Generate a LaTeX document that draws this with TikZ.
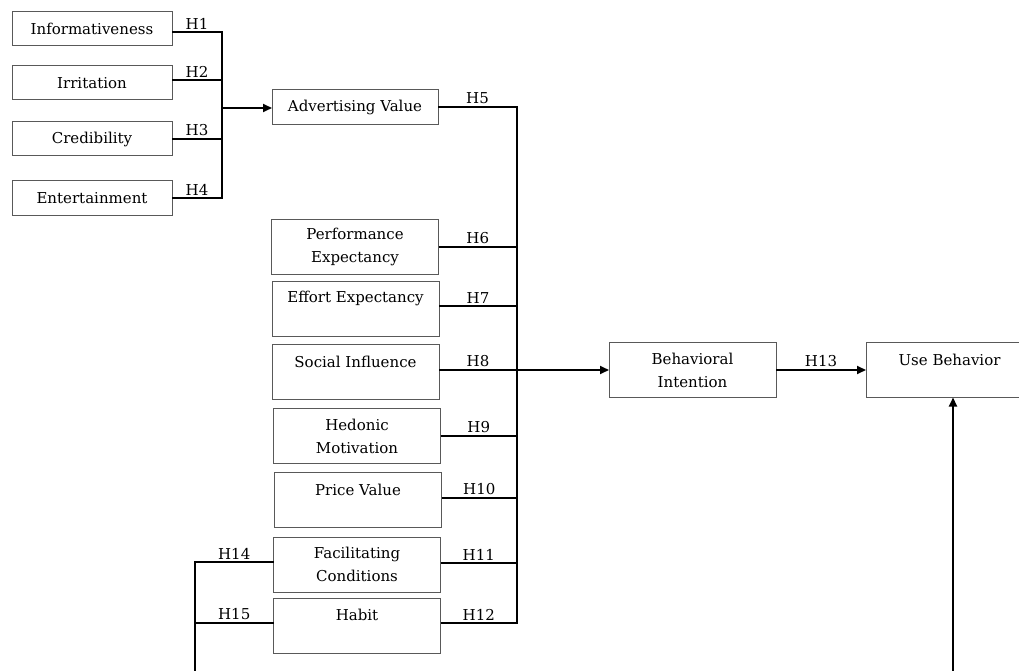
\documentclass[tikz,border=0pt]{standalone}
\usepackage{fontspec}
\setmainfont{DejaVu Serif}
\usetikzlibrary{arrows.meta}
\begin{document}
\begin{tikzpicture}[x=1pt,y=-1pt,
  font=\fontsize{15}{23}\selectfont,
  box/.style={draw=black!65, line width=1pt, rectangle, inner sep=0pt, outer sep=0pt,
    minimum width=167pt, minimum height=55pt, align=center},
  sbox/.style={box, minimum width=160pt, minimum height=34pt},
  conn/.style={line width=1.8pt, black},
  arr/.style={conn, -{Triangle[length=9pt,width=8pt]}},
  hl/.style={above, inner sep=2pt},
  toplbl/.style={label={[anchor=center,yshift=-17pt]north:#1}}
]
\useasboundingbox (0,0) rectangle (1019,671);
\clip (0,0) rectangle (1019,671);

% left group
\node[sbox] (inf) at (92,29) {Informativeness};
\node[sbox] (irr) at (92,83) {Irritation};
\node[sbox] (cre) at (92,139) {Credibility};
\node[sbox] (ent) at (92,198) {Entertainment};
\node[box, minimum width=166pt, minimum height=35pt] (adv) at (355,107) {Advertising Value};

% middle column
\node[box] (pe) at (355,247) {Performance\\Expectancy};
\node[box, toplbl=Effort Expectancy] (ee) at (355.5,308.5) {};
\node[box, toplbl=Social Influence] (si) at (355.5,372) {};
\node[box] (hm) at (357,436) {Hedonic\\Motivation};
\node[box, toplbl=Price Value] (pv) at (358,500) {};
\node[box] (fc) at (357,564.5) {Facilitating\\Conditions};
\node[box, toplbl=Habit] (hab) at (357,625.5) {};

% right
\node[box] (bi) at (692.5,370) {Behavioral\\Intention};
\node[box, toplbl=Use Behavior] (ub) at (949.5,370) {};

% bus coordinates
\coordinate (b1) at (222,0);
\coordinate (b2) at (517,0);
\coordinate (b3) at (195,0);
\coordinate (bot1) at (195,671);
\coordinate (bot2) at (953,671);

\coordinate (infR) at ([yshift=-3pt]inf.east);
\coordinate (irrR) at ([yshift=3pt]irr.east);
\coordinate (eeR) at ([yshift=2.5pt]ee.east);
\coordinate (pvR) at ([yshift=2pt]pv.east);
\coordinate (fcR) at ([yshift=1.5pt]fc.east);
\coordinate (fcL) at ([yshift=2.5pt]fc.west);
\coordinate (habR) at ([yshift=2.5pt]hab.east);
\coordinate (habL) at ([yshift=2.5pt]hab.west);
\coordinate (advL) at ([yshift=-1pt]adv.west);

% H1-H4
\draw[conn] (infR) -- node[hl] {H1} (infR -| b1);
\draw[conn] (irrR) -- node[hl] {H2} (irrR -| b1);
\draw[conn] (cre.east) -- node[hl] {H3} (cre.east -| b1);
\draw[conn] (ent.east) -- node[hl] {H4} (ent.east -| b1);
\draw[conn, line cap=rect] (infR -| b1) -- (ent.east -| b1);
\draw[arr] (advL -| b1) -- (advL);

% H5-H12
\draw[conn] (adv.east) -- node[hl] {H5} (adv.east -| b2);
\draw[conn] (pe.east) -- node[hl] {H6} (pe.east -| b2);
\draw[conn] (eeR) -- node[hl] {H7} (eeR -| b2);
\draw[conn] (si.east |- bi.west) -- node[hl] {H8} (bi.west -| b2);
\draw[conn] (hm.east) -- node[hl] {H9} (hm.east -| b2);
\draw[conn] (pvR) -- node[hl] {H10} (pvR -| b2);
\draw[conn] (fcR) -- node[hl] {H11} (fcR -| b2);
\draw[conn] (habR) -- node[hl] {H12} (habR -| b2);
\draw[conn, line cap=rect] (adv.east -| b2) -- (habR -| b2);
\draw[arr] (bi.west -| b2) -- (bi.west);

% H13
\draw[arr] (bi.east) -- node[hl] {H13} (ub.west);

% H14, H15
\draw[conn] (fcL) -- node[hl] {H14} (fcL -| b3);
\draw[conn] (habL) -- node[hl] {H15} (habL -| b3);
\draw[conn, line cap=rect] (fcL -| b3) -- (bot1);
\draw[arr] (bot2) -- (ub.south -| bot2);
\end{tikzpicture}
\end{document}
